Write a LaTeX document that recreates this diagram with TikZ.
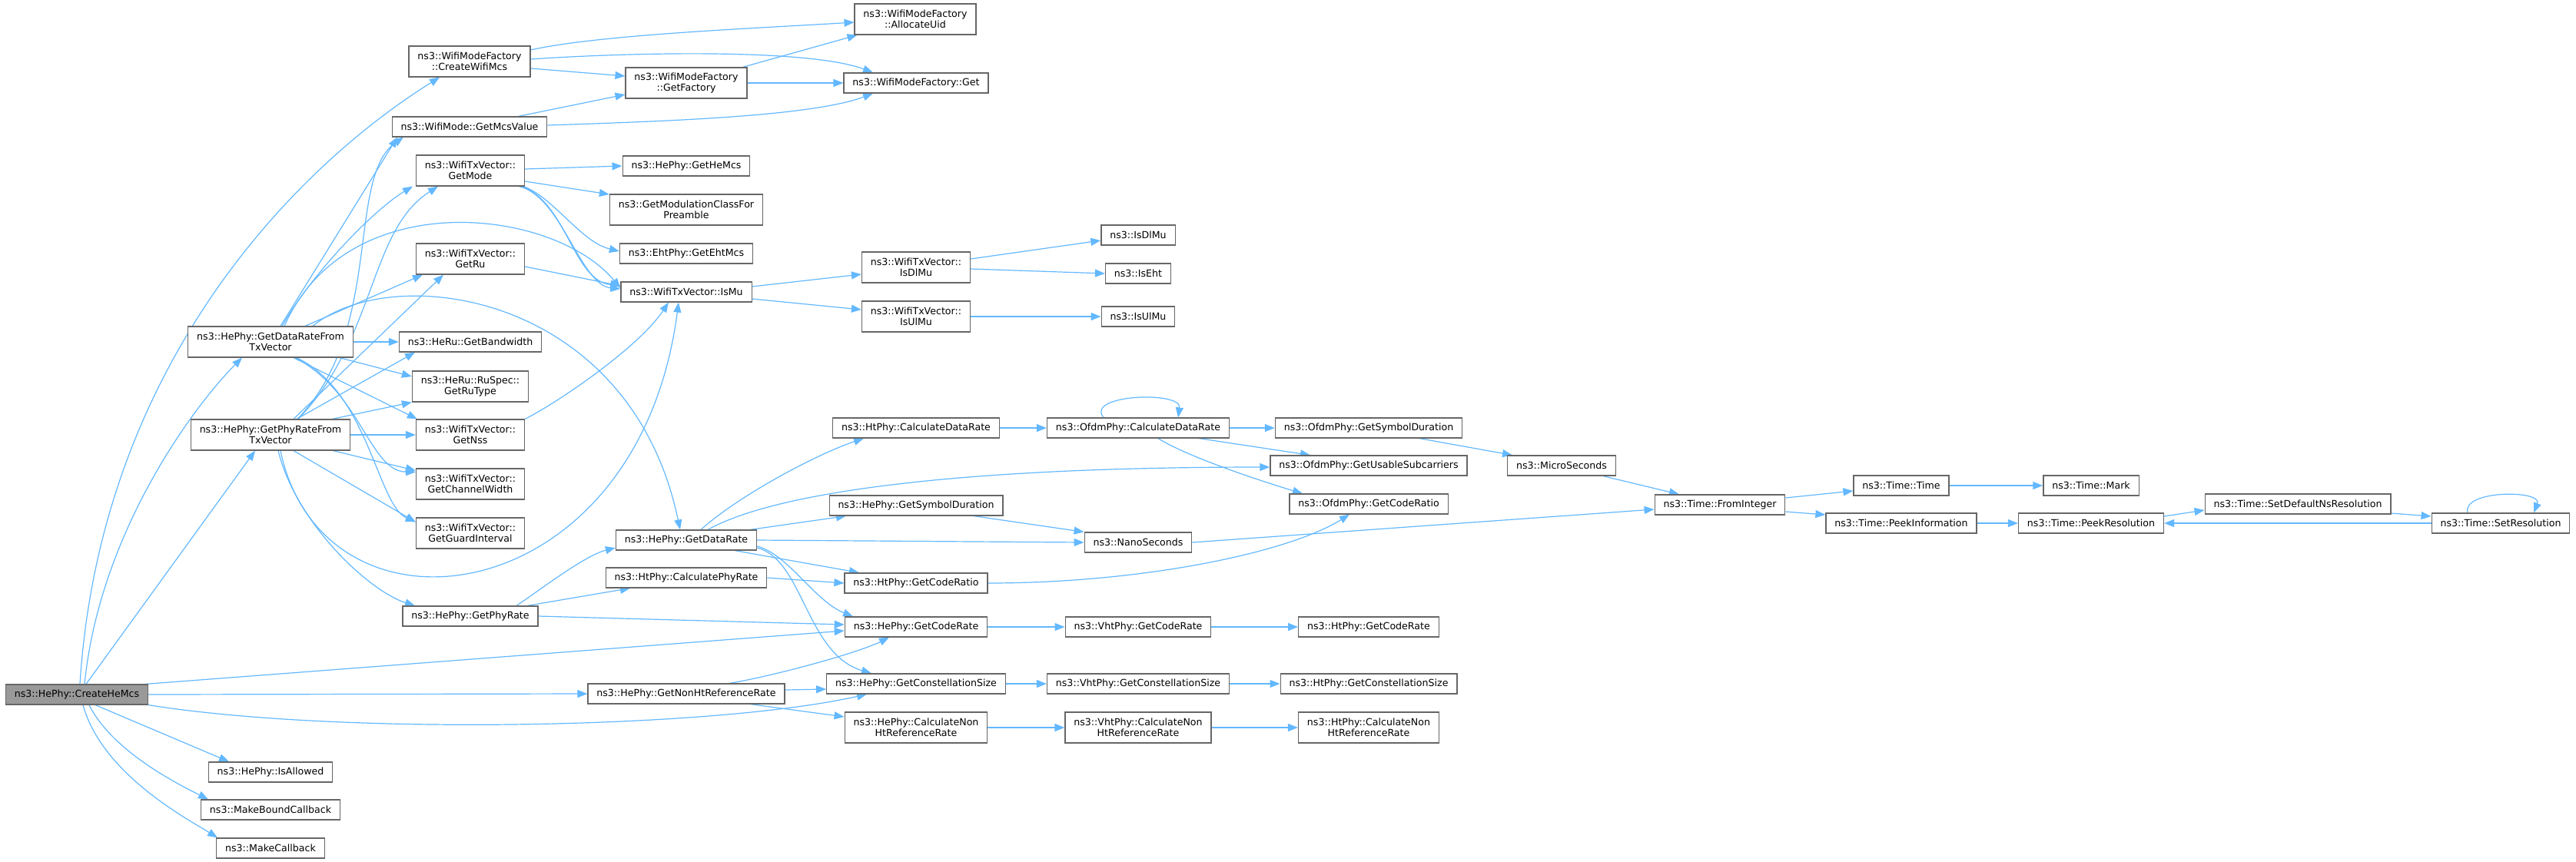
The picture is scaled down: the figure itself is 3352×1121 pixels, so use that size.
\documentclass[tikz,border=0pt]{standalone}
\usepackage{fontspec}
\setmainfont{DejaVu Sans}
\usetikzlibrary{arrows.meta}
\definecolor{callblue}{HTML}{63B8FF}
\definecolor{nodegray}{HTML}{666666}
\definecolor{rootgray}{HTML}{999999}
\pgfdeclarelayer{background}
\pgfsetlayers{background,main}

\begin{document}
\begin{tikzpicture}[
    x=0.5pt, y=-0.5pt,
    fn_box/.style={draw=nodegray, fill=white, line width=0.6pt, align=center,
        font=\fontsize{6.3}{7}\selectfont, inner xsep=5.7pt, inner ysep=2pt, minimum height=13pt},
    fn_two/.style={fn_box, minimum height=20pt},
    fn_root/.style={fn_box, fill=rootgray},
    call_arrow/.style={draw=callblue, line width=0.6pt, -{Triangle[length=6.5pt,width=5pt]}}
]
    \path[use as bounding box] (0,0) rectangle (3352,1121);
    % Raiz
    \node[fn_root] (C) at (100,904) {ns3::HePhy::CreateHeMcs};
    % Coluna 1
    \node[fn_two] (D) at (352,445) {ns3::HePhy::GetDataRateFrom\\TxVector};
    \node[fn_two] (P) at (352,566) {ns3::HePhy::GetPhyRateFrom\\TxVector};
    \node[fn_box] (allowed) at (352,1005) {ns3::HePhy::IsAllowed};
    \node[fn_box] (mbc) at (352,1054) {ns3::MakeBoundCallback};
    \node[fn_box] (mc) at (352,1104) {ns3::MakeCallback};
    % Coluna 2
    \node[fn_two] (cwm) at (611,80) {ns3::WifiModeFactory\\::CreateWifiMcs};
    \node[fn_box] (mcs) at (611,165) {ns3::WifiMode::GetMcsValue};
    \node[fn_two] (mode) at (612,222) {ns3::WifiTxVector::\\GetMode};
    \node[fn_two] (ru) at (612,337) {ns3::WifiTxVector::\\GetRu};
    \node[fn_box] (bw) at (612,445) {ns3::HeRu::GetBandwidth};
    \node[fn_two] (rutype) at (612,503) {ns3::HeRu::RuSpec::\\GetRuType};
    \node[fn_two] (nss) at (612,566) {ns3::WifiTxVector::\\GetNss};
    \node[fn_two] (chw) at (612,630) {ns3::WifiTxVector::\\GetChannelWidth};
    \node[fn_two] (gi) at (612,694) {ns3::WifiTxVector::\\GetGuardInterval};
    \node[fn_box] (pr) at (612,802) {ns3::HePhy::GetPhyRate};
    % Coluna 3
    \node[fn_two] (fac) at (893,108) {ns3::WifiModeFactory\\::GetFactory};
    \node[fn_box] (hemcs) at (893,216) {ns3::HePhy::GetHeMcs};
    \node[fn_two] (modcl) at (893,273) {ns3::GetModulationClassFor\\Preamble};
    \node[fn_box] (ehtmcs) at (893,330) {ns3::EhtPhy::GetEhtMcs};
    \node[fn_box] (ismu) at (893,380) {ns3::WifiTxVector::IsMu};
    \node[fn_box] (dr) at (893,703) {ns3::HePhy::GetDataRate};
    \node[fn_box] (cpr) at (893,752) {ns3::HtPhy::CalculatePhyRate};
    \node[fn_box] (gnh) at (893,903) {ns3::HePhy::GetNonHtReferenceRate};
    % Coluna 4
    \node[fn_two] (alloc) at (1191,25) {ns3::WifiModeFactory\\::AllocateUid};
    \node[fn_box] (get) at (1192,108) {ns3::WifiModeFactory::Get};
    \node[fn_two] (txdl) at (1192,348) {ns3::WifiTxVector::\\IsDlMu};
    \node[fn_two] (txul) at (1192,412) {ns3::WifiTxVector::\\IsUlMu};
    \node[fn_box] (htcdr) at (1192,557) {ns3::HtPhy::CalculateDataRate};
    \node[fn_box] (hesym) at (1192,658) {ns3::HePhy::GetSymbolDuration};
    \node[fn_box] (htcr) at (1192,759) {ns3::HtPhy::GetCodeRatio};
    \node[fn_box] (cr) at (1192,816) {ns3::HePhy::GetCodeRate};
    \node[fn_box] (cs) at (1192,890) {ns3::HePhy::GetConstellationSize};
    \node[fn_two] (nonht) at (1192,947) {ns3::HePhy::CalculateNon\\HtReferenceRate};
    % Coluna 5
    \node[fn_box] (isdl) at (1481,306) {ns3::IsDlMu};
    \node[fn_box] (iseht) at (1481,356) {ns3::IsEht};
    \node[fn_box] (isul) at (1481,412) {ns3::IsUlMu};
    \node[fn_box] (ocdr) at (1481,557) {ns3::OfdmPhy::CalculateDataRate};
    \node[fn_box] (ns) at (1481,706) {ns3::NanoSeconds};
    \node[fn_box] (vcr) at (1481,816) {ns3::VhtPhy::GetCodeRate};
    \node[fn_box] (vcs) at (1481,890) {ns3::VhtPhy::GetConstellationSize};
    \node[fn_two] (vnh) at (1481,947) {ns3::VhtPhy::CalculateNon\\HtReferenceRate};
    % Coluna 6
    \node[fn_box] (osym) at (1781,557) {ns3::OfdmPhy::GetSymbolDuration};
    \node[fn_box] (usc) at (1781,606) {ns3::OfdmPhy::GetUsableSubcarriers};
    \node[fn_box] (ocrat) at (1781,656) {ns3::OfdmPhy::GetCodeRatio};
    \node[fn_box] (hcr) at (1781,816) {ns3::HtPhy::GetCodeRate};
    \node[fn_box] (hcs) at (1781,890) {ns3::HtPhy::GetConstellationSize};
    \node[fn_two] (hnh) at (1781,947) {ns3::HtPhy::CalculateNon\\HtReferenceRate};
    % Tempo
    \node[fn_box] (us) at (2032,606) {ns3::MicroSeconds};
    \node[fn_box] (fi) at (2238,657) {ns3::Time::FromInteger};
    \node[fn_box] (tt) at (2474,632) {ns3::Time::Time};
    \node[fn_box] (pi) at (2474,681) {ns3::Time::PeekInformation};
    \node[fn_box] (mark) at (2721,632) {ns3::Time::Mark};
    \node[fn_box] (pres) at (2721,681) {ns3::Time::PeekResolution};
    \node[fn_box] (sdns) at (2990,656) {ns3::Time::SetDefaultNsResolution};
    \node[fn_box] (sres) at (3254,681) {ns3::Time::SetResolution};

    \begin{pgfonlayer}{background}
    % Chamadas da raiz
    \draw[call_arrow] ([xshift=2pt]C.north) .. controls +(26,-411) and +(-192,120) .. ([xshift=-19.5pt]cwm.south);
    \draw[call_arrow] ([xshift=5pt]C.north) .. controls +(20,-200) and +(-60,60) .. ([xshift=-18.5pt]D.south);
    \draw[call_arrow] ([xshift=6pt]C.north) -- ([xshift=-10pt]P.south);
    \draw[call_arrow] ([xshift=-2pt]C.north east) -- ([yshift=-2.5pt]cr.west);
    \draw[call_arrow] (C.east) -- (gnh.west);
    \draw[call_arrow] (C.south east) .. controls +(250,40) and +(-200,45) .. ([xshift=-32pt]cs.south);
    \draw[call_arrow] ([xshift=12pt]C.south) -- ([xshift=-27pt]allowed.north);
    \draw[call_arrow] ([xshift=8pt]C.south) .. controls +(30,60) and +(-40,-20) .. ([xshift=5pt]mbc.north west);
    \draw[call_arrow] ([xshift=4pt]C.south) .. controls +(25,90) and +(-40,-25) .. ([xshift=1pt]mc.north west);
    % WifiModeFactory
    \draw[call_arrow] ([yshift=7.5pt]cwm.east) .. controls +(90,-20) and +(-130,8) .. ([yshift=-2pt]alloc.west);
    \draw[call_arrow] ([yshift=1.5pt]cwm.east) .. controls +(150,-10) and +(-80,-30) .. ([xshift=-28pt]get.north);
    \draw[call_arrow] ([yshift=-4.5pt]cwm.east) -- ([yshift=4.5pt]fac.west);
    \draw[call_arrow] ([xshift=-3pt]fac.north east) -- ([xshift=2pt]alloc.south west);
    \draw[call_arrow] (fac.east) -- (get.west);
    \draw[call_arrow] ([xshift=-19pt]mcs.north east) -- ([yshift=-7.5pt]fac.west);
    \draw[call_arrow] ([yshift=1pt]mcs.east) .. controls +(150,-5) and +(-80,30) .. ([xshift=-28pt]get.south);
    % GetDataRateFromTxVector
    \draw[call_arrow] ([xshift=6.5pt]D.north) -- ([xshift=-47pt]mcs.south);
    \draw[call_arrow] ([xshift=7.5pt]D.north) .. controls +(40,-70) and +(-50,30) .. ([xshift=-37.5pt]mode.south);
    \draw[call_arrow] ([xshift=22.5pt]D.north) -- ([xshift=-31pt]ru.south);
    \draw[call_arrow] ([xshift=9pt]D.north) .. controls +(82,-185) and +(-87,-105) .. ([yshift=2.5pt]ismu.west);
    \draw[call_arrow] ([xshift=27.5pt]D.north) .. controls +(103,-85) and +(-65,-310) .. ([xshift=-4pt]dr.north);
    \draw[call_arrow] (D.east) -- (bw.west);
    \draw[call_arrow] ([xshift=-9pt]D.south east) -- ([yshift=6.5pt]rutype.west);
    \draw[call_arrow] ([xshift=15pt]D.south) -- ([xshift=1pt]nss.north west);
    \draw[call_arrow] ([xshift=16pt]D.south) .. controls +(86,45) and +(-60,-1) .. ([yshift=-2.5pt]chw.north west);
    \draw[call_arrow] ([xshift=17pt]D.south) .. controls +(94,45) and +(-50,-22) .. ([yshift=-3pt]gi.north west);
    % GetPhyRateFromTxVector
    \draw[call_arrow] ([xshift=17.5pt]P.north) .. controls +(113,-116) and +(-75,52) .. ([xshift=-43pt]mcs.south);
    \draw[call_arrow] ([xshift=18pt]P.north) .. controls +(102,-106) and +(-90,57) .. ([xshift=-21pt]mode.south);
    \draw[call_arrow] ([xshift=15pt]P.north) -- ([xshift=-17.5pt]ru.south);
    \draw[call_arrow] ([xshift=17pt]P.north) -- ([xshift=-36pt]bw.south);
    \draw[call_arrow] ([xshift=-12pt]P.north east) -- (rutype.south west);
    \draw[call_arrow] (P.east) -- (nss.west);
    \draw[call_arrow] ([xshift=-11.5pt]P.south east) -- ([yshift=-1.5pt]chw.north west);
    \draw[call_arrow] ([xshift=15pt]P.south) -- ([yshift=-3pt]gi.north west);
    \draw[call_arrow] ([xshift=5pt]P.south) .. controls +(23,94) and +(-60,-19) .. ([xshift=-36pt]pr.north);
    \draw[call_arrow] ([xshift=6.5pt]P.south) .. controls +(55,264) and +(-53,407) .. ([xshift=-5pt]ismu.south);
    % WifiTxVector
    \draw[call_arrow] ([xshift=-2pt]mode.south east) .. controls +(59,22) and +(-62,-7) .. ([yshift=4pt]ismu.west);
    \draw[call_arrow] ([xshift=-4pt]mode.south east) .. controls +(55,12) and +(-52,-5) .. ([yshift=2pt]ismu.west);
    \draw[call_arrow] ([yshift=1pt]mode.east) -- (hemcs.west);
    \draw[call_arrow] ([yshift=-7pt]mode.east) -- ([yshift=10pt]modcl.west);
    \draw[call_arrow] ([xshift=-1pt]mode.south east) .. controls +(40,15) and +(-50,-12) .. ([yshift=1.5pt]ehtmcs.west);
    \draw[call_arrow] ([yshift=-5pt]ru.east) -- ([yshift=4pt]ismu.west);
    \draw[call_arrow] (nss.north east) .. controls +(40,-20) and +(-40,60) .. ([xshift=-11.5pt]ismu.south);
    \draw[call_arrow] ([yshift=3.5pt]ismu.east) -- ([yshift=-4.5pt]txdl.west);
    \draw[call_arrow] ([yshift=-4.5pt]ismu.east) -- ([yshift=4.5pt]txul.west);
    \draw[call_arrow] ([yshift=5.5pt]txdl.east) -- ([yshift=-3.5pt]isdl.west);
    \draw[call_arrow] ([yshift=-1pt]txdl.east) -- (iseht.west);
    \draw[call_arrow] (txul.east) -- (isul.west);
    % GetDataRate
    \draw[call_arrow] ([xshift=9.5pt]dr.north) .. controls +(50,-45) and +(-60,20) .. ([xshift=-34pt]htcdr.south);
    \draw[call_arrow] ([xshift=14pt]dr.north) .. controls +(90,-50) and +(-400,0) .. ([yshift=-1pt]usc.west);
    \draw[call_arrow] ([xshift=-4.5pt]dr.north east) -- ([xshift=-45.5pt]hesym.south);
    \draw[call_arrow] (dr.east) -- (ns.west);
    \draw[call_arrow] ([xshift=-14.5pt]dr.south east) -- ([xshift=-37pt]htcr.north);
    \draw[call_arrow] ([yshift=-4pt]dr.east) .. controls +(40,10) and +(-50,-20) .. ([xshift=-41pt]cr.north);
    \draw[call_arrow] ([yshift=-5pt]dr.east) .. controls +(60,15) and +(-85,-25) .. ([xshift=-29pt]cs.north);
    \draw[call_arrow] ([xshift=30pt]pr.north) .. controls +(30,-20) and +(-40,10) .. ([yshift=-5pt]dr.west);
    \draw[call_arrow] ([xshift=37pt]pr.north) -- ([xshift=-36.5pt]cpr.south);
    \draw[call_arrow] (pr.east) -- ([yshift=1.5pt]cr.west);
    \draw[call_arrow] (cpr.east) -- (htcr.west);
    \draw[call_arrow] ([xshift=28pt]gnh.north) .. controls +(60,-10) and +(-40,20) .. ([xshift=-17.5pt]cr.south);
    \draw[call_arrow] ([yshift=2.5pt]gnh.east) -- ([yshift=-3.5pt]cs.west);
    \draw[call_arrow] ([xshift=-22.5pt]gnh.south east) -- ([yshift=7pt]nonht.west);
    % OfdmPhy
    \draw[call_arrow] (htcdr.east) -- (ocdr.west);
    \draw[call_arrow] ([xshift=-22.5pt]ocdr.north) .. controls +(-25,-30) and +(5,-35) .. ([xshift=26pt]ocdr.north);
    \draw[call_arrow] (ocdr.east) -- (osym.west);
    \draw[call_arrow] ([xshift=39.5pt]ocdr.south) -- ([xshift=-38pt]usc.north);
    \draw[call_arrow] ([xshift=13pt]ocdr.south) .. controls +(40,25) and +(-50,-15) .. ([xshift=-43pt]ocrat.north);
    \draw[call_arrow] ([xshift=33pt]osym.south) -- ([xshift=-32pt]us.north);
    \draw[call_arrow] ([xshift=37.5pt]hesym.south) -- (ns.north west);
    \draw[call_arrow] (htcr.east) .. controls +(200,0) and +(-80,50) .. ([xshift=-12.5pt]ocrat.south);
    % Cadeias Vht e Ht
    \draw[call_arrow] (cr.east) -- (vcr.west);
    \draw[call_arrow] (vcr.east) -- (hcr.west);
    \draw[call_arrow] (cs.east) -- (vcs.west);
    \draw[call_arrow] (vcs.east) -- (hcs.west);
    \draw[call_arrow] (nonht.east) -- (vnh.west);
    \draw[call_arrow] (vnh.east) -- (hnh.west);
    % Tempo
    \draw[call_arrow] (ns.east) -- ([yshift=-3pt]fi.west);
    \draw[call_arrow] ([xshift=27pt]us.south) -- ([xshift=-26.5pt]fi.north);
    \draw[call_arrow] ([yshift=4.5pt]fi.east) -- ([yshift=-3.5pt]tt.west);
    \draw[call_arrow] ([yshift=-4.5pt]fi.east) -- ([yshift=5.5pt]pi.west);
    \draw[call_arrow] (tt.east) -- (mark.west);
    \draw[call_arrow] (pi.east) -- (pres.west);
    \draw[call_arrow] ([yshift=4.5pt]pres.east) -- ([yshift=-4pt]sdns.west);
    \draw[call_arrow] ([yshift=-6pt]sdns.east) -- ([yshift=4.5pt]sres.west);
    \draw[call_arrow] (sres.west) -- (pres.east);
    \draw[call_arrow] ([xshift=-21.5pt]sres.north) .. controls +(-8,-30) and +(12,-30) .. ([xshift=21.5pt]sres.north);
    \end{pgfonlayer}
\end{tikzpicture}
\end{document}
